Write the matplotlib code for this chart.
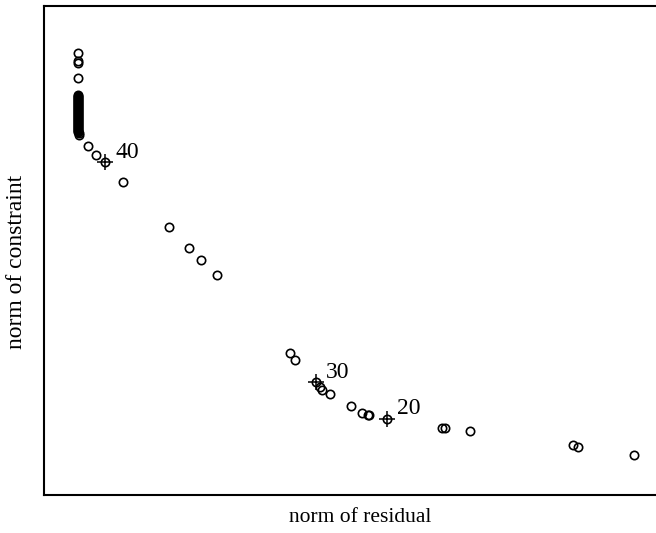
import matplotlib
matplotlib.use("Agg")
import matplotlib.pyplot as plt

# L-curve style data: norm of residual vs norm of constraint
residual = [
    0.34, 0.34, 0.34, 0.34,
    # tightly packed group at the corner
    0.34, 0.34, 0.34, 0.34, 0.34, 0.34, 0.34, 0.34, 0.34, 0.34,
    0.34, 0.34, 0.34, 0.34, 0.34, 0.34, 0.34, 0.34, 0.34, 0.34,
    0.34, 0.34, 0.34, 0.34, 0.34, 0.34, 0.34, 0.34, 0.34, 0.34,
    0.34, 0.34, 0.34, 0.34, 0.34, 0.34, 0.34, 0.34, 0.35, 0.35,
    0.44, 0.52, 0.61, 0.79, 1.25, 1.45, 1.57, 1.73,
    2.46, 2.51, 2.72, 2.76, 2.78, 2.86, 3.07, 3.18, 3.24, 3.25,
    3.43, 3.98, 4.01, 4.26, 5.29, 5.34, 5.90,
]
constraint = [
    4.42, 4.34, 4.32, 4.17,
    4.00, 3.99, 3.98, 3.97, 3.96, 3.95, 3.94, 3.93, 3.92, 3.91,
    3.90, 3.89, 3.88, 3.87, 3.86, 3.85, 3.84, 3.83, 3.82, 3.81,
    3.80, 3.79, 3.78, 3.77, 3.76, 3.75, 3.74, 3.73, 3.72, 3.71,
    3.70, 3.69, 3.68, 3.67, 3.66, 3.65, 3.64, 3.63, 3.62, 3.60,
    3.49, 3.40, 3.33, 3.13, 2.68, 2.47, 2.35, 2.20,
    1.42, 1.35, 1.13, 1.08, 1.05, 1.01, 0.89, 0.82, 0.80, 0.80,
    0.76, 0.67, 0.67, 0.64, 0.50, 0.48, 0.40,
]

# highlighted iterations
mark_res = [0.61, 2.72, 3.43]
mark_con = [3.33, 1.13, 0.76]
mark_lab = ["40", "30", "20"]

plt.rcParams["font.family"] = ["Liberation Serif", "DejaVu Serif"]

fig = plt.figure(figsize=(6.56, 5.33), dpi=100)
ax = fig.add_axes([44 / 656, 38 / 533, 620 / 656, 489 / 533])

ax.plot(residual, constraint, "o", ls="none", ms=6, mfc="none", mec="black", mew=1.2)
ax.plot(mark_res, mark_con, "+", ls="none", ms=12, mec="black", mew=1.1)
for x, y, lab in zip(mark_res, mark_con, mark_lab):
    ax.text(x + 0.10, y + 0.10, lab, fontsize=17, ha="left", va="center")

ax.set_xlim(0, 6.2)
ax.set_ylim(0, 4.89)
ax.set_xticks([])
ax.set_yticks([])
for s in ax.spines.values():
    s.set_linewidth(1.5)

fig.text(360 / 656, 1 - 517 / 533, "norm of residual", ha="center", va="center", fontsize=15.5)
fig.text(17 / 656, 1 - 262 / 533, "norm of constraint", ha="center", va="center",
         rotation=90, fontsize=17)

fig.savefig("out.png", dpi=100, facecolor="white")
